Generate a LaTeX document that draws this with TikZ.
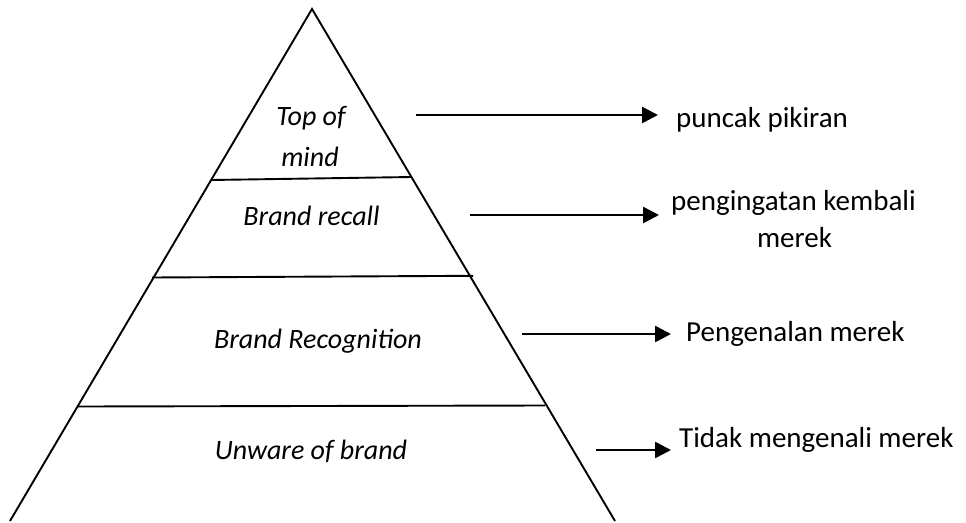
\documentclass[tikz,border=0pt]{standalone}
\usepackage{fontspec}
\setmainfont{Carlito}
\usetikzlibrary{arrows.meta}
\begin{document}
\begin{tikzpicture}[x=1pt,y=-1pt,
  edge/.style={line width=1.9pt,black},
  arr/.style={line width=2.6pt,-{Triangle[length=16pt,width=16pt]}},
  lvl/.style={font=\fontsize{28}{34}\selectfont\itshape,anchor=base,inner sep=0pt},
  lab/.style={font=\fontsize{29}{35}\selectfont,anchor=base west,inner sep=0pt},
  labc/.style={font=\fontsize{29}{35}\selectfont,anchor=base,inner sep=0pt}]
\useasboundingbox (0,0) rectangle (966,522);
% pyramid
\draw[edge,line join=miter] (10,521) -- (312,9) -- (615,521);
\draw[edge] (211,180) -- (412,177);
\draw[edge] (152,277.5) -- (473,275.8);
\draw[edge] (78,406.5) -- (545,405.5);
% level texts
\node[lvl] (top1) at (311,125) {Top of};
\node[lvl] (top2) at (310,166) {mind};
\node[lvl] (recall) at (311.5,225) {Brand recall};
\node[lvl] (recog) at (318,348) {Brand Recognition};
\node[lvl] (unaware) at (311,459) {Unware of brand};
% right labels
\node[lab] (l1) at (676,127) {puncak pikiran};
\node[lab] (l2a) at (671,210) {pengingatan kembali};
\node[labc] (l2b) at (794.5,247) {merek};
\node[lab] (l3) at (686,341) {Pengenalan merek};
\node[lab] (l4) at (679,447) {Tidak mengenali merek};
% arrows
\coordinate (a1s) at (416,115); \coordinate (a1e) at (658,115);
\coordinate (a2s) at (470,215); \coordinate (a2e) at (659,215);
\coordinate (a3s) at (522,334); \coordinate (a3e) at (671,334);
\coordinate (a4s) at (596,450); \coordinate (a4e) at (671,450);
\draw[arr] (a1s) -- (a1e);
\draw[arr] (a2s) -- (a2e);
\draw[arr] (a3s) -- (a3e);
\draw[arr] (a4s) -- (a4e);
\end{tikzpicture}
\end{document}
